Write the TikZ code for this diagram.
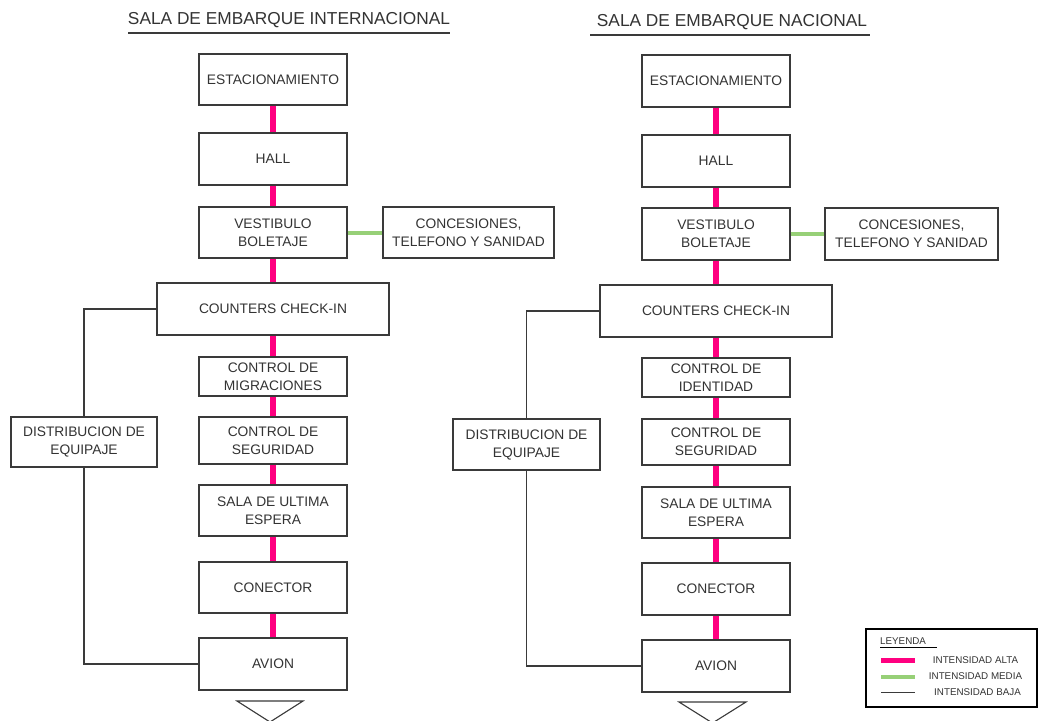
\documentclass[tikz,border=0pt]{standalone}
\usepackage{fontspec}
\setmainfont{Liberation Sans}
\definecolor{alta}{HTML}{FF0080}
\definecolor{media}{HTML}{97D077}
\definecolor{ink}{HTML}{333333}
\definecolor{edge}{HTML}{3A3A3A}
\tikzset{
  box/.style={draw=edge, line width=1.2pt, fill=white, inner sep=0pt, align=center,
    text=ink, font=\fontsize{13.8}{18}\selectfont},
  altaline/.style={draw=alta, line width=6pt},
  medialine/.style={draw=media, line width=4pt},
  bajaline/.style={draw=edge, line width=1.1pt},
  titlestyle/.style={text=ink, font=\fontsize{17.3}{20}\selectfont, inner xsep=0pt, inner ysep=0pt},
  legtext/.style={text=ink, font=\fontsize{9.8}{11}\selectfont, inner sep=0pt},
  planeshape/.style={draw=edge, line width=1.1pt}
}
\newcommand\mybox[6]{%
  \node[box, minimum width={(#4)-(#2)}, minimum height={(#5)-(#3)}] (#1)
    at ({((#2)+(#4))/2},{((#3)+(#5))/2}) {#6};}
\begin{document}
\begin{tikzpicture}[x=1pt,y=-1pt]
\useasboundingbox (0,0) rectangle (1038,720);
\fill[white] (0,0) rectangle (1038,720);

% ---------- titles
\node[titlestyle] (tl) at (289,20) {SALA DE EMBARQUE INTERNACIONAL};
\draw[edge, line width=1.1pt] (128,33) coordinate (ul1) -- (450,33) coordinate (ul2);
\node[titlestyle] (tr) at (732,22) {SALA DE EMBARQUE NACIONAL};
\draw[edge, line width=1.1pt] (590,35) coordinate (ur1) -- (870,35) coordinate (ur2);

% ---------- left column
\mybox{le}{199}{54}{347}{105}{ESTACIONAMIENTO}
\mybox{lh}{199}{133}{347}{185}{HALL}
\mybox{lv}{199}{207}{347}{258}{VESTIBULO\\BOLETAJE}
\mybox{lk}{383}{207}{554}{258}{CONCESIONES,\\TELEFONO Y SANIDAD}
\mybox{lc}{157}{283}{389}{335}{COUNTERS CHECK-IN}
\mybox{lm}{199}{357}{347}{396}{CONTROL DE\\MIGRACIONES}
\mybox{ls}{199}{417}{347}{464}{CONTROL DE\\SEGURIDAD}
\mybox{ld}{11}{417}{157}{467}{DISTRIBUCION DE\\EQUIPAJE}
\mybox{lu}{199}{485}{347}{536}{SALA DE ULTIMA\\ESPERA}
\mybox{lo}{199}{562}{347}{613}{CONECTOR}
\mybox{la}{199}{638}{347}{690}{AVION}

% ---------- right column
\mybox{re}{642}{55}{790}{107}{ESTACIONAMIENTO}
\mybox{rh}{642}{135}{790}{187}{HALL}
\mybox{rv}{642}{208}{790}{260}{VESTIBULO\\BOLETAJE}
\mybox{rk}{825}{208}{998}{260}{CONCESIONES,\\TELEFONO Y SANIDAD}
\mybox{rc}{600}{285}{832}{337}{COUNTERS CHECK-IN}
\mybox{rm}{642}{358}{790}{397}{CONTROL DE\\IDENTIDAD}
\mybox{rs}{642}{419}{790}{465}{CONTROL DE\\SEGURIDAD}
\mybox{rd}{453}{419}{600}{470}{DISTRIBUCION DE\\EQUIPAJE}
\mybox{ru}{642}{487}{790}{538}{SALA DE ULTIMA\\ESPERA}
\mybox{ro}{642}{563}{790}{615}{CONECTOR}
\mybox{ra}{642}{640}{790}{692}{AVION}

% ---------- connectors
\foreach \a/\b in {le/lh, lh/lv, lv/lc, lc/lm, lm/ls, ls/lu, lu/lo, lo/la,
                   re/rh, rh/rv, rv/rc, rc/rm, rm/rs, rs/ru, ru/ro, ro/ra}
  \draw[altaline] (\a.south) -- (\b.north);
\draw[medialine] (lv.east) -- (lk.west);
\draw[medialine] (rv.east) -- (rk.west);
\draw[bajaline] (lc.west) -| (ld.north);
\draw[bajaline] (ld.south) |- (la.west);
\draw[bajaline] (rc.west) -| (rd.north);
\draw[bajaline] (rd.south) |- (ra.west);

% ---------- plane shapes (cut by the page edge)
\draw[planeshape] (237,701) -- (303,701) -- (270,722) -- cycle;
\draw[planeshape] (679,702) -- (746,702) -- (712.5,723) -- cycle;

% ---------- legend
\node[draw=black, line width=2pt, minimum width=171, minimum height=78, inner sep=0pt] (leg) at (951.5,668) {};
\node[legtext, anchor=west] (legt) at (880,641) {LEYENDA};
\draw[black, line width=0.6pt] (880,647.5) coordinate (lgu1) -- (937,647.5) coordinate (lgu2);
\draw[altaline, line width=5pt] (881,660) coordinate (p1) -- (915,660) coordinate (p2);
\draw[medialine, line width=4pt] (881,677) coordinate (g1) -- (915,677) coordinate (g2);
\draw[edge, line width=0.7pt] (881,692) coordinate (b1) -- (915,692) coordinate (b2);
\node[legtext] (l1) at (975.5,660) {INTENSIDAD ALTA};
\node[legtext] (l2) at (975.5,676.5) {INTENSIDAD MEDIA};
\node[legtext] (l3) at (977.5,692) {INTENSIDAD BAJA};
\end{tikzpicture}
\end{document}
